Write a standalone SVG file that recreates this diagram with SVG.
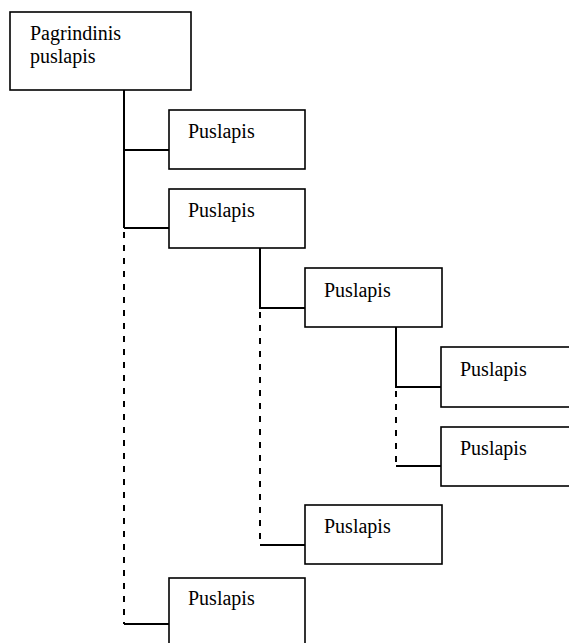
<svg xmlns="http://www.w3.org/2000/svg" width="569" height="643" viewBox="0 0 569 643">
  <style>
    .box { fill: #ffffff; stroke: #000000; stroke-width: 1.6; }
    .lbl { font-family: 'Liberation Serif', 'Times New Roman', Times, 'DejaVu Serif', serif; font-size: 20px; fill: #000000; }
    .solid { fill: none; stroke: #000000; stroke-width: 2; }
    .dash { fill: none; stroke: #000000; stroke-width: 2; stroke-dasharray: 6 7; }
  </style>
  <rect width="569" height="643" fill="#ffffff"/>

  <g id="connectors">
    <!-- level 1 trunk -->
    <path class="solid" d="M124 90 V228 M124 150 H169 M124 228 H169 M124 624 H169"/>
    <path class="dash" d="M124 232 V624"/>
    <!-- level 2 trunk -->
    <path class="solid" d="M260 248 V308 H305 M260 545 H305"/>
    <path class="dash" d="M260 312 V545"/>
    <!-- level 3 trunk -->
    <path class="solid" d="M396 327 V387 H441 M396 466 H441"/>
    <path class="dash" d="M396 391 V466"/>
  </g>

  <g id="root">
    <rect class="box" x="10" y="12" width="181" height="78"/>
    <text class="lbl" x="30" y="40" font-family="Liberation Serif, serif">Pagrindinis</text>
    <text class="lbl" x="30" y="63" font-family="Liberation Serif, serif">puslapis</text>
  </g>
  <g id="page1">
    <rect class="box" x="169" y="110" width="136" height="59"/>
    <text class="lbl" x="188" y="138">Puslapis</text>
  </g>
  <g id="page2">
    <rect class="box" x="169" y="189" width="136" height="59"/>
    <text class="lbl" x="188" y="217">Puslapis</text>
  </g>
  <g id="page3">
    <rect class="box" x="305" y="268" width="137" height="59"/>
    <text class="lbl" x="324" y="297">Puslapis</text>
  </g>
  <g id="page4">
    <rect class="box" x="441" y="347" width="160" height="60"/>
    <text class="lbl" x="460" y="376">Puslapis</text>
  </g>
  <g id="page5">
    <rect class="box" x="441" y="427" width="160" height="59"/>
    <text class="lbl" x="460" y="455">Puslapis</text>
  </g>
  <g id="page6">
    <rect class="box" x="305" y="505" width="137" height="59"/>
    <text class="lbl" x="324" y="533">Puslapis</text>
  </g>
  <g id="page7">
    <rect class="box" x="169" y="578" width="136" height="80"/>
    <text class="lbl" x="188" y="605">Puslapis</text>
  </g>
</svg>
